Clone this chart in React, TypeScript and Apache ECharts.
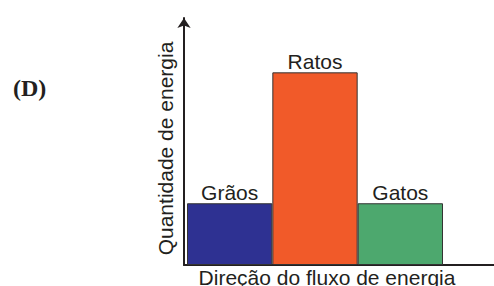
import React, { useEffect, useRef } from "react";
import * as echarts from "echarts";

const categories = ["Grãos", "Ratos", "Gatos"];
const energyValues = [25, 78, 25];
const barColors = ["#2e3192", "#f15a29", "#4da86e"];
const xAxisTitle = "Direção do fluxo de energia";
const yAxisTitle = "Quantidade de energia";
const panelLabel = "(D)";

const SANS = "'Liberation Sans', Arial, Helvetica, sans-serif";
const SERIF = "'Liberation Serif', 'Times New Roman', serif";
const INK = "#231f20";

export default function App() {
  const ref = useRef<HTMLDivElement>(null);
  useEffect(() => {
    if (!ref.current) return;
    const chart = echarts.init(ref.current, undefined, { renderer: "svg" });
    const option: any = {
      animation: false,
      backgroundColor: "#ffffff",
      grid: [
        { left: 184, right: 0, top: 18, bottom: 21, outerBoundsMode: "none", containLabel: false },
        { left: 187, width: 256, top: 18, bottom: 21, outerBoundsMode: "none", containLabel: false },
      ],
      xAxis: [
        {
          gridIndex: 0,
          type: "value",
          min: 0,
          max: 100,
          axisLine: { show: true, lineStyle: { color: INK, width: 2 } },
          axisTick: { show: false },
          axisLabel: { show: false },
          splitLine: { show: false },
          name: xAxisTitle,
          nameLocation: "middle",
          nameGap: 4,
          nameTextStyle: {
            fontFamily: SANS,
            fontSize: 21,
            lineHeight: 17,
            color: INK,
            padding: [0, 24, 0, 0],
          },
        },
        {
          gridIndex: 1,
          type: "category",
          data: categories,
          show: false,
        },
      ],
      yAxis: [
        {
          gridIndex: 0,
          type: "value",
          min: 0,
          max: 100,
          axisLine: {
            show: true,
            symbol: ["none", "arrow"],
            symbolSize: [10, 10],
            lineStyle: { color: INK, width: 2 },
          },
          axisTick: { show: false },
          axisLabel: { show: false },
          splitLine: { show: false },
          name: yAxisTitle,
          nameLocation: "middle",
          nameGap: 8,
          nameTextStyle: {
            fontFamily: SANS,
            fontSize: 21,
            color: INK,
            padding: [0, 14, 0, 0],
          },
        },
        {
          gridIndex: 1,
          type: "value",
          min: 0,
          max: 100,
          show: false,
        },
      ],
      series: [
        {
          type: "bar",
          xAxisIndex: 1,
          yAxisIndex: 1,
          barWidth: "100%",
          data: energyValues.map((v, i) => ({
            value: v,
            itemStyle: { color: barColors[i] },
          })),
          itemStyle: { borderColor: "#333333", borderWidth: 1 },
          label: {
            show: true,
            position: "top",
            distance: 0,
            formatter: "{b}",
            fontFamily: SANS,
            fontSize: 21,
            color: INK,
          },
        },
      ],
      graphic: [
        {
          type: "text",
          left: 13,
          top: 76,
          style: {
            text: panelLabel,
            font: `bold 24px ${SERIF}`,
            fill: INK,
          },
        },
      ],
    };
    chart.setOption(option);
    return () => chart.dispose();
  }, []);
  return (
    <div
      ref={ref}
      style={{ position: "fixed", left: 0, top: 0, width: 494, height: 286 }}
    />
  );
}
